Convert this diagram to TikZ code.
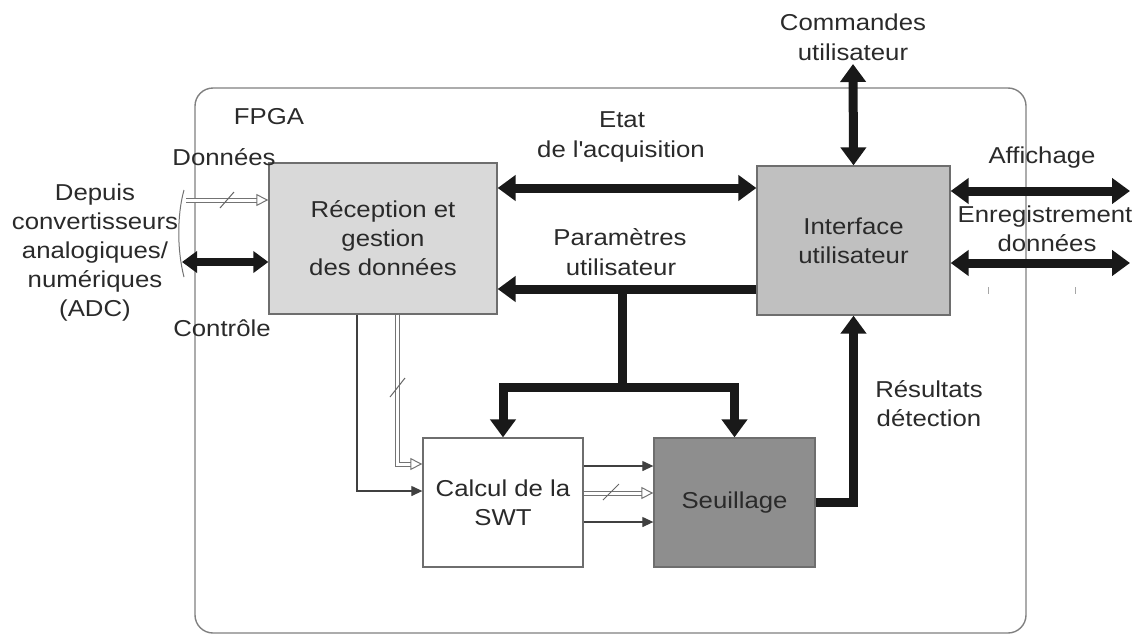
\documentclass[tikz,border=0pt]{standalone}
\usepackage{fontspec}
\setmainfont{Liberation Sans}[FakeStretch=1.12]
\usetikzlibrary{arrows.meta,positioning}
\definecolor{txt}{HTML}{2A2A2A}
\definecolor{edge}{HTML}{6E6E6E}
\definecolor{fillA}{HTML}{D9D9D9}
\definecolor{fillB}{HTML}{C0C0C0}
\definecolor{fillC}{HTML}{8E8E8E}
\tikzset{
  box/.style={draw=edge, line width=1.3pt, inner sep=0pt, text=txt, align=center},
  lbl/.style={text=txt, align=center, inner sep=0pt},
  fat/.style={draw=black!90, line width=9pt},
  fatdouble/.style={fat, {Triangle[length=18pt,width=25pt]}-{Triangle[length=18pt,width=25pt]}},
  fatend/.style={fat, -{Triangle[length=18pt,width=25pt]}},
  thin/.style={draw=black!75, line width=1.2pt, -{Triangle[length=11pt,width=10pt]}},
  dbl/.style={draw=black!55, double=white, double distance=3pt, line width=1pt, -{Triangle[open,length=12pt,width=12pt]}},
  slash/.style={draw=black!60, line width=1pt},
  tick/.style={draw=black!35, line width=1pt}
}
\begin{document}
\begin{tikzpicture}[x=1pt,y=-1pt, font=\fontsize{23}{29}\selectfont]
\useasboundingbox (0,0) rectangle (1145,635);
% FPGA frame
\draw[draw=black!50, line width=1.4pt, rounded corners=18pt] (195,88) rectangle (1026,633);
\node[lbl] (fpga) at (269,117) {FPGA};

% blocks
\node[box, fill=fillA, minimum width=228pt, minimum height=151pt] (recep) at (383,238.5) {Réception et\\gestion\\des données};
\node[box, fill=fillB, minimum width=193pt, minimum height=149pt] (inter) at (853.5,240.5) {Interface\\utilisateur};
\node[box, fill=white, minimum width=160pt, minimum height=129pt] (calc) at (503,502.5) {Calcul de la\\SWT};
\node[box, fill=fillC, minimum width=161pt, minimum height=129pt] (seuil) at (734.5,502.5) {Seuillage};

% helper coordinates
\coordinate (yEtat) at (0,188);
\coordinate (yPar) at (0,289);
\coordinate (yAff) at (0,191);
\coordinate (yEnr) at (0,263);
\coordinate (yDat) at (0,200);
\coordinate (yCtl) at (0,262);
\coordinate (y1) at (0,466);
\coordinate (y2) at (0,493);
\coordinate (y3) at (0,522);
\coordinate (yThin) at (0,491);
\coordinate (yDbl) at (0,464);
\coordinate (xThin) at (357,0);
\coordinate (xDbl) at (397,0);
\coordinate (junc) at (622,387);
\coordinate (cmdTop) at (853,64);
\coordinate (affEnd) at (1130,191);
\coordinate (enrEnd) at (1130,263);
\coordinate (datStart) at (186,200);
\coordinate (ctlStart) at (182,262);

% Etat de l'acquisition
\draw[fatdouble] (recep.east |- yEtat) -- (inter.west |- yEtat);
\node[lbl] (etat) at (622,120) {Etat};
\node[lbl] (acq) at (621,152) {de l\textquotesingle acquisition};

% Parametres utilisateur
\draw[fatend] (inter.west |- yPar) -- (recep.east |- yPar);
\node[lbl] (param) at (620,237) {Paramètres};
\node[lbl] (paramu) at (621,267) {utilisateur};
\draw[fat] (junc |- yPar) -- (junc);
\draw[fatend, line join=miter] (junc) -| (calc.north);
\draw[fatend, line join=miter] (junc) -| (seuil.north);

% Commandes utilisateur
\draw[fatdouble] (cmdTop) -- (inter.north);
\node[lbl] (cmd) at (853,22) {Commandes};
\node[lbl] (cmdu) at (853,52) {utilisateur};

% Affichage / Enregistrement
\draw[fatdouble] (inter.east |- yAff) -- (affEnd);
\draw[fatdouble] (inter.east |- yEnr) -- (enrEnd);
\node[lbl] (aff) at (1042,158) {Affichage};
\node[lbl] (enr) at (1045,217) {Enregistrement};
\node[lbl] (don) at (1047,243) {données};
\draw[tick] (988,287) -- (988,294);
\draw[tick] (1075,287) -- (1075,294);

% Resultats detection
\draw[fatend, line join=miter] (seuil.east) -| (inter.south);
\node[lbl] (res) at (929,389) {Résultats};
\node[lbl] (det) at (929,418) {détection};

% Left side inputs
\draw[dbl] (datStart) -- (recep.west |- yDat);
\draw[slash] (220,208) -- (234,192);
\draw[line width=8pt, draw=black!90, {Triangle[length=15pt,width=21pt]}-{Triangle[length=15pt,width=21pt]}] (ctlStart) -- (recep.west |- yCtl);
\draw[draw=black!55, line width=1pt] (184,190) .. controls (177,215) and (177,250) .. (184,277);
\node[lbl] (donL) at (224,157) {Données};
\node[lbl] (ctlL) at (222,328) {Contrôle};
\node[lbl] (adc) at (95,253) {Depuis\\convertisseurs\\analogiques/\\numériques\\(ADC)};

% Reception -> Calcul
\draw[thin] (recep.south -| xThin) |- (calc.west |- yThin);
\draw[dbl] (recep.south -| xDbl) |- (calc.west |- yDbl);
\draw[slash] (390,397) -- (405,378);

% Calcul -> Seuillage
\draw[thin] (calc.east |- y1) -- (seuil.west |- y1);
\draw[dbl] (calc.east |- y2) -- (seuil.west |- y2);
\draw[slash] (603,500) -- (619,484);
\draw[thin] (calc.east |- y3) -- (seuil.west |- y3);
\end{tikzpicture}
\end{document}
